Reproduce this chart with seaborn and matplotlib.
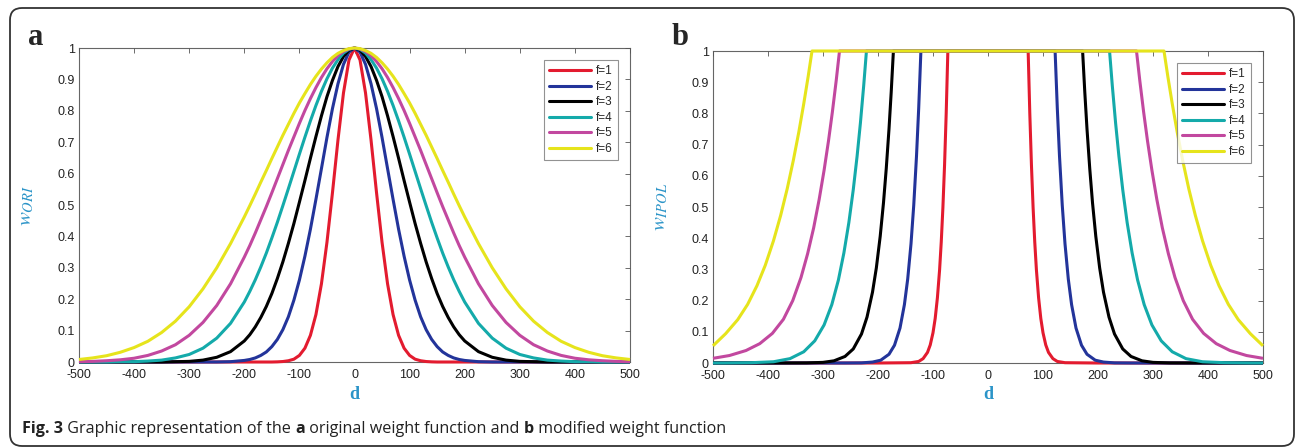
import numpy as np
import pandas as pd
import matplotlib
matplotlib.use("Agg")
import matplotlib.pyplot as plt
import seaborn as sns
from matplotlib.patches import FancyBboxPatch
from matplotlib.transforms import IdentityTransform

# ---- data ----
labels = ["f=1", "f=2", "f=3", "f=4", "f=5", "f=6"]
colors = ["#e31b2f", "#23349a", "#000000", "#14aaaa", "#c2489f", "#e6e41c"]

# panel a: original weight, read for d >= 0 (curves are symmetric about d = 0)
d_ori = [0, 10, 20, 30, 40, 50, 60, 70, 80, 90, 100, 110, 120, 130, 140, 150, 160, 170,
         180, 190, 200, 225, 250, 275, 300, 325, 350, 375, 400, 425, 450, 475, 500]
w_ori_f1 = [1, 0.962, 0.857, 0.707, 0.539, 0.381, 0.249, 0.151, 0.085, 0.044, 0.021, 0.009,
            0.004, 0.0015, 0.0005, 0, 0, 0, 0, 0, 0, 0, 0, 0, 0, 0, 0, 0, 0, 0, 0, 0, 0]
w_ori_f2 = [1, 0.987, 0.948, 0.886, 0.807, 0.715, 0.616, 0.518, 0.423, 0.337, 0.261, 0.197,
            0.144, 0.103, 0.072, 0.049, 0.032, 0.021, 0.013, 0.008, 0.005, 0.001, 0, 0, 0, 0,
            0, 0, 0, 0, 0, 0, 0]
w_ori_f3 = [1, 0.993, 0.973, 0.941, 0.897, 0.845, 0.784, 0.718, 0.649, 0.578, 0.509, 0.441,
            0.378, 0.319, 0.266, 0.218, 0.177, 0.142, 0.112, 0.087, 0.067, 0.033, 0.015, 0.006,
            0.002, 0.001, 0, 0, 0, 0, 0, 0, 0]
w_ori_f4 = [1, 0.996, 0.984, 0.963, 0.936, 0.902, 0.862, 0.817, 0.768, 0.716, 0.662, 0.607,
            0.552, 0.498, 0.445, 0.395, 0.347, 0.303, 0.262, 0.225, 0.191, 0.123, 0.076, 0.044,
            0.024, 0.013, 0.006, 0.003, 0.001, 0.001, 0, 0, 0]
w_ori_f5 = [1, 0.997, 0.989, 0.976, 0.957, 0.934, 0.906, 0.874, 0.839, 0.801, 0.760, 0.717,
            0.674, 0.629, 0.584, 0.539, 0.495, 0.453, 0.411, 0.371, 0.334, 0.249, 0.180, 0.126,
            0.085, 0.055, 0.035, 0.021, 0.012, 0.007, 0.004, 0.002, 0.001]
w_ori_f6 = [1, 0.998, 0.992, 0.983, 0.970, 0.953, 0.933, 0.910, 0.884, 0.855, 0.825, 0.792,
            0.757, 0.722, 0.685, 0.648, 0.610, 0.573, 0.535, 0.498, 0.462, 0.377, 0.300, 0.233,
            0.176, 0.130, 0.094, 0.066, 0.046, 0.031, 0.020, 0.013, 0.008]

# panel b: modified weight, flat at 1 then a steep flank (own sample points per curve)
d_ipol_f1 = [0, 73, 76, 79, 82, 85, 88, 92, 96, 100, 105, 110, 118, 126, 140, 200, 300, 400, 500]
w_ipol_f1 = [1, 1, 0.800, 0.634, 0.498, 0.388, 0.299, 0.209, 0.143, 0.097, 0.058, 0.034, 0.014,
             0.005, 0.001, 0, 0, 0, 0]
d_ipol_f2 = [0, 122, 126, 130, 135, 140, 146, 152, 160, 170, 180, 195, 210, 230, 260, 300, 400, 500]
w_ipol_f2 = [1, 1, 0.817, 0.663, 0.506, 0.382, 0.269, 0.187, 0.112, 0.057, 0.028, 0.009, 0.003,
             0.0004, 0, 0, 0, 0]
d_ipol_f3 = [0, 172, 176, 180, 185, 190, 196, 203, 210, 220, 230, 245, 260, 280, 300, 330, 370,
             420, 500]
w_ipol_f3 = [1, 1, 0.868, 0.750, 0.623, 0.514, 0.406, 0.305, 0.227, 0.147, 0.093, 0.045, 0.021,
             0.007, 0.002, 0.0003, 0, 0, 0]
d_ipol_f4 = [0, 221, 226, 232, 238, 245, 253, 262, 272, 284, 298, 315, 335, 360, 390, 430, 480, 500]
w_ipol_f4 = [1, 1, 0.889, 0.769, 0.663, 0.555, 0.450, 0.353, 0.266, 0.187, 0.122, 0.071, 0.036,
             0.014, 0.004, 0.001, 0, 0]
d_ipol_f5 = [0, 270, 276, 283, 290, 298, 307, 317, 328, 340, 355, 372, 392, 415, 440, 470, 500]
w_ipol_f5 = [1, 1, 0.905, 0.804, 0.712, 0.618, 0.524, 0.433, 0.350, 0.274, 0.200, 0.140, 0.095,
             0.062, 0.040, 0.024, 0.015]
d_ipol_f6 = [0, 320, 327, 335, 344, 354, 365, 377, 390, 405, 420, 437, 455, 477, 500]
w_ipol_f6 = [1, 1, 0.918, 0.831, 0.740, 0.649, 0.559, 0.473, 0.392, 0.313, 0.248, 0.188, 0.139,
             0.094, 0.055]


def mirror(d, w):
    # extend the d >= 0 readings to negative d (both panels are symmetric)
    d = np.asarray(d, dtype=float)
    w = np.asarray(w, dtype=float)
    return np.concatenate([-d[:0:-1], d]), np.concatenate([w[:0:-1], w])


def long_frame(pairs):
    rows = []
    for lab, (d, w) in zip(labels, pairs):
        dd, ww = mirror(d, w)
        rows.append(pd.DataFrame({"d": dd, "w": ww, "f": lab}))
    return pd.concat(rows, ignore_index=True)


df_ori = long_frame([(d_ori, w) for w in
                     [w_ori_f1, w_ori_f2, w_ori_f3, w_ori_f4, w_ori_f5, w_ori_f6]])
df_ipol = long_frame([(d_ipol_f1, w_ipol_f1), (d_ipol_f2, w_ipol_f2), (d_ipol_f3, w_ipol_f3),
                      (d_ipol_f4, w_ipol_f4), (d_ipol_f5, w_ipol_f5), (d_ipol_f6, w_ipol_f6)])

# ---- styling ----
sns.set_style("white")
plt.rcParams["font.family"] = ["Liberation Sans", "DejaVu Sans"]
plt.rcParams["mathtext.fontset"] = "stix"
plt.rcParams["axes.unicode_minus"] = False

W, H = 1296, 448
fig = plt.figure(figsize=(W / 100, H / 100), dpi=100)
palette = dict(zip(labels, colors))
label_blue = "#2b94c8"


def draw_panel(rect, data, ylab):
    left, top, right, bottom = rect
    ax = fig.add_axes([left / W, 1 - bottom / H, (right - left) / W, (bottom - top) / H])
    sns.lineplot(data=data, x="d", y="w", hue="f", hue_order=labels, palette=palette,
                 linewidth=2.2, estimator=None, sort=True, ax=ax)
    for ln in ax.lines:
        ln.set_clip_on(False)
        ln.set_solid_capstyle("butt")
    ax.set_xlim(-500, 500)
    ax.set_ylim(0, 1)
    ax.set_xticks(np.arange(-500, 501, 100))
    ax.set_yticks(np.arange(0, 1.01, 0.1))
    ax.set_yticklabels(["0", "0.1", "0.2", "0.3", "0.4", "0.5", "0.6", "0.7", "0.8", "0.9", "1"])
    ax.tick_params(direction="in", length=3.5, width=0.6, color="#555555",
                   top=True, right=True, labelsize=9, labelcolor="#222222", pad=3)
    ax.tick_params(axis="x", pad=5)
    for sp in ax.spines.values():
        sp.set_color("#666666")
        sp.set_linewidth(0.8)
        sp.set_zorder(0)
    ax.set_xlabel("d", fontsize=13, fontweight="bold", family="Liberation Serif", color=label_blue)
    ax.xaxis.set_label_coords(0.5, -0.075)
    ax.set_ylabel(ylab, fontsize=15, color=label_blue)
    ax.yaxis.set_label_coords(-0.078, 0.5)
    sns.move_legend(ax, "upper right", title=None, frameon=True, fancybox=False,
                    fontsize=8.5, handlelength=3.6, handletextpad=0.4, labelspacing=0.3,
                    borderpad=0.45, borderaxespad=1.0, edgecolor="#777777")
    leg = ax.get_legend()
    leg.get_frame().set_linewidth(0.8)
    for h in leg.legend_handles:
        h.set_linewidth(2.2)
    return ax


ax_a = draw_panel((79, 48, 630, 362), df_ori, r"$w_{ORI}$")
ax_b = draw_panel((713, 51, 1263, 363), df_ipol, r"$w_{IPOL}$")

# panel letters
fig.text(28 / W, 1 - 45 / H, "a", fontsize=22, fontweight="bold", family="Liberation Serif",
         va="baseline")
fig.text(672 / W, 1 - 45 / H, "b", fontsize=22, fontweight="bold", family="Liberation Serif",
         va="baseline")

# caption with mixed weights
caption = [("Fig. 3", "bold"), (" Graphic representation of the ", "normal"), ("a", "bold"),
           (" original weight function and ", "normal"), ("b", "bold"),
           (" modified weight function", "normal")]
renderer = fig.canvas.get_renderer()
x = 22
for txt, weight in caption:
    t = fig.text(x / W, (H - 433) / H, txt, fontsize=11.6, fontweight=weight,
                 family="Open Sans", va="baseline", color="#222222")
    x = t.get_window_extent(renderer).x1

# rounded outer frame (pixel coordinates)
frame = FancyBboxPatch((10, 2), 1284, 438, boxstyle="round,pad=0,rounding_size=12",
                       transform=IdentityTransform(), fill=False, edgecolor="#333333",
                       linewidth=1.3)
fig.patches.append(frame)

fig.savefig("out.png", dpi=100)
